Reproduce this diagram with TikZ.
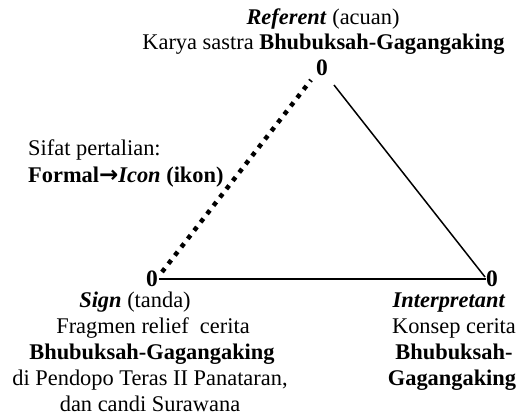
\documentclass[tikz,border=0pt]{standalone}
\usepackage{fontspec}
\setmainfont{Liberation Serif}
\newfontfamily\arrowfont{DejaVu Sans}
\begin{document}
\begin{tikzpicture}[x=1pt,y=-1pt,
  txt/.style={inner sep=0pt,anchor=base,font=\fontsize{22.4}{26}\selectfont},
  zero/.style={inner sep=0pt,anchor=base,font=\fontsize{23.5}{26}\selectfont\bfseries},
  solidline/.style={line width=1.5pt},
  dotline/.style={line width=4.5pt,dash pattern=on 4.5pt off 6pt}]
\useasboundingbox (0,0) rectangle (517,416);
% vertices
\node[zero] (top) at (322,75) {0};
\node[zero] (bl) at (152,286) {0};
\node[zero] (br) at (492,286) {0};
% connector end points
\coordinate (d1) at (162,272);
\coordinate (d2) at (311,80);
\coordinate (s1) at (334,85);
\coordinate (s2) at (485,277);
\coordinate (b1) at (159,279);
\coordinate (b2) at (486,279);
\draw[dotline] (d1) -- (d2);
\draw[solidline] (s1) -- (s2);
\draw[solidline] (b1) -- (b2);
% referent
\node[txt] (ref) at (323,24) {\textbf{\textit{Referent}} (acuan)};
\node[txt] (karya) at (323.5,49) {Karya sastra \textbf{Bhubuksah-Gagangaking}};
% relation
\node[txt,anchor=base west] (sifat) at (28,155) {Sifat pertalian:};
\node[txt,anchor=base west] (formal) at (28,182) {\textbf{Formal{\arrowfont\bfseries\fontsize{23}{26}\selectfont →}\textit{Icon} (ikon)}};
% sign
\node[txt] (sign) at (135,307) {\textbf{\textit{Sign}} (tanda)};
\node[txt] (frag) at (153,333) {Fragmen relief\ \ cerita};
\node[txt] (bg1) at (152,359) {\textbf{Bhubuksah-Gagangaking}};
\node[txt] (pend) at (150,385) {di Pendopo Teras II Panataran,};
\node[txt] (cand) at (150,411) {dan candi Surawana};
% interpretant
\node[txt] (interp) at (449,307) {\textbf{\textit{Interpretant}}};
\node[txt] (kons) at (454,333) {Konsep cerita};
\node[txt] (bg2) at (454,359) {\textbf{Bhubuksah-}};
\node[txt] (bg3) at (452,385) {\textbf{Gagangaking}};
\end{tikzpicture}
\end{document}
